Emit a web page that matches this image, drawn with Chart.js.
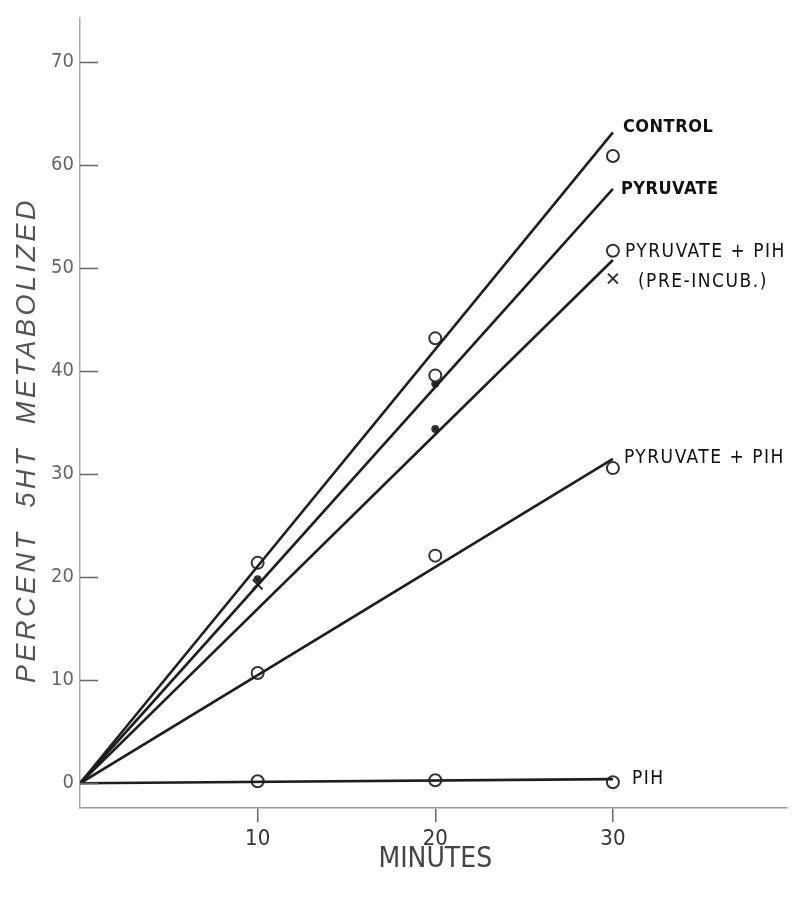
<!DOCTYPE html>
<html>
<head>
<meta charset="utf-8">
<script src="https://cdn.jsdelivr.net/npm/chart.js@4.4.1/dist/chart.umd.min.js"></script>
<style>
  html, body { margin: 0; padding: 0; background: #fff; }
  #wrap { width: 796px; height: 900px; }
</style>
</head>
<body>
<div id="wrap"><canvas id="chart" width="796" height="900"></canvas></div>
<script>
// minutes on x, percent 5HT metabolized on y
const minutes = [10, 20, 30];
const xTicks = [10, 20, 30];
const yTicks = [0, 10, 20, 30, 40, 50, 60, 70];

// fitted lines drawn from origin to 30 min
const fitMinutes = [0, 30];
const controlFit = [0, 63.2];
const pyruvateFit = [0, 57.7];
const preIncubFit = [0, 50.8];
const pyrPihFit = [0, 31.5];
const pihFit = [0, 0.4];

// measured points
const controlPts = [21.4, 43.2, 60.9];
const pyruvateCircles = [null, 39.6, null];
const pyruvateDots = [19.8, 38.8, null];
const preIncubCircles = [null, null, 51.7];
const preIncubCrosses = [19.3, null, 49.0];
const preIncubDots = [null, 34.4, null];
const pyrPihPts = [10.7, 22.1, 30.6];
const pihPts = [0.2, 0.3, 0.1];

const seriesNames = ['CONTROL', 'PYRUVATE', 'PYRUVATE + PIH', 'PYRUVATE + PIH', 'PIH'];
const preIncubNote = '(PRE-INCUB.)';

const ink = '#1e1e1e';

function toXY(xs, ys) {
    return xs.map((x, i) => ({ x: x, y: ys[i] })).filter(p => p.y !== null);
}

function fitLine(ys) {
    return {
        data: toXY(fitMinutes, ys),
        showLine: true,
        borderColor: ink,
        borderWidth: 2.6,
        pointRadius: 0,
        pointHoverRadius: 0
    };
}

function marks(ys, style, radius, filled) {
    return {
        data: toXY(minutes, ys),
        showLine: false,
        pointStyle: style,
        pointRadius: radius,
        pointBorderWidth: 2,
        pointBorderColor: '#333',
        pointBackgroundColor: filled ? '#222' : '#fff'
    };
}

const datasets = [
    fitLine(controlFit),
    fitLine(pyruvateFit),
    fitLine(preIncubFit),
    fitLine(pyrPihFit),
    fitLine(pihFit),
    marks(controlPts, 'circle', 6, false),
    marks(pyruvateCircles, 'circle', 6, false),
    marks(pyruvateDots, 'circle', 3, true),
    marks(preIncubCircles, 'circle', 6, false),
    marks(preIncubCrosses, 'crossRot', 7, false),
    marks(preIncubDots, 'circle', 3, true),
    marks(pyrPihPts, 'circle', 6, false),
    marks(pihPts, 'circle', 6, false)
];

// labels beside the line ends, inward y ticks and axis titles
const decorations = {
    id: 'decorations',
    afterDraw(chart) {
        const ctx = chart.ctx;
        const xs = chart.scales.x;
        const ys = chart.scales.y;
        const area = chart.chartArea;
        ctx.save();

        // y ticks point into the plot
        ctx.strokeStyle = '#666';
        ctx.lineWidth = 1.5;
        yTicks.forEach(v => {
            const py = Math.round(ys.getPixelForValue(v)) + 0.5;
            ctx.beginPath();
            ctx.moveTo(area.left, py);
            ctx.lineTo(area.left + 18, py);
            ctx.stroke();
        });

        // series labels
        const endX = xs.getPixelForValue(30);
        const labelY = [
            ys.getPixelForValue(controlFit[1]) - 5,
            ys.getPixelForValue(pyruvateFit[1]),
            ys.getPixelForValue(preIncubCircles[2]) + 1,
            ys.getPixelForValue(pyrPihFit[1]) - 1,
            ys.getPixelForValue(pihPts[2]) - 3
        ];
        const labelDx = [10, 8, 12, 11, 19];
        ctx.fillStyle = '#111';
        ctx.textBaseline = 'middle';
        ctx.textAlign = 'left';
        seriesNames.forEach((name, i) => {
            if (i < 2) {
                ctx.font = 'bold 18px "DejaVu Sans Condensed", "DejaVu Sans"';
                ctx.letterSpacing = '0.5px';
            } else {
                ctx.font = '19px "DejaVu Sans Condensed", "DejaVu Sans"';
                ctx.letterSpacing = '1.5px';
            }
            ctx.fillText(name, endX + labelDx[i], labelY[i]);
        });
        ctx.fillText(preIncubNote, endX + 25, labelY[2] + 30);
        ctx.letterSpacing = '0px';

        // axis titles
        ctx.fillStyle = '#444';
        ctx.textAlign = 'center';
        ctx.font = '28px "DejaVu Sans Condensed", "DejaVu Sans"';
        ctx.fillText('MINUTES', xs.getPixelForValue(20), 860);

        ctx.translate(27, 440);
        ctx.rotate(-Math.PI / 2);
        ctx.font = 'italic 27px "Liberation Sans", sans-serif';
        ctx.letterSpacing = '3.5px';
        ctx.fillStyle = '#555';
        ctx.fillText('PERCENT  5HT  METABOLIZED', 0, 0);
        ctx.restore();
    }
};

new Chart(document.getElementById('chart').getContext('2d'), {
    type: 'scatter',
    data: { datasets: datasets },
    options: {
        responsive: false,
        animation: false,
        layout: { padding: { top: 10, right: 6, left: 0, bottom: 0 } },
        plugins: {
            legend: { display: false },
            tooltip: { enabled: false }
        },
        scales: {
            x: {
                type: 'linear',
                min: 0,
                max: 39.8,
                afterBuildTicks: scale => { scale.ticks = xTicks.map(v => ({ value: v })); },
                afterFit: scale => { scale.height = 92; },
                grid: { drawOnChartArea: false, drawTicks: true, tickLength: 14, color: '#666', lineWidth: 1.5 },
                border: { color: '#999', width: 1.5 },
                ticks: {
                    padding: 4,
                    color: '#333',
                    font: { family: '"DejaVu Sans Condensed", "DejaVu Sans"', size: 22 }
                }
            },
            y: {
                type: 'linear',
                min: -2.4,
                max: 74.3,
                afterBuildTicks: scale => { scale.ticks = yTicks.map(v => ({ value: v })); },
                afterFit: scale => { scale.width = 80; },
                grid: { drawOnChartArea: false, drawTicks: false },
                border: { color: '#aaa', width: 1.5 },
                ticks: {
                    padding: 6,
                    color: '#666',
                    font: { family: '"DejaVu Sans Condensed", "DejaVu Sans"', size: 20 }
                }
            }
        }
    },
    plugins: [decorations]
});
</script>
</body>
</html>
